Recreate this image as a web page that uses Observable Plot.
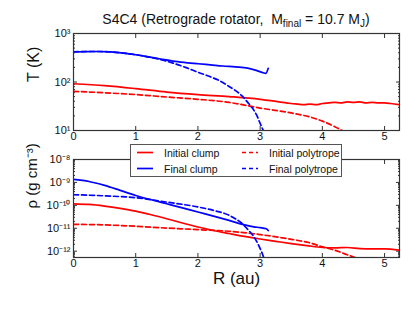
<!DOCTYPE html>
<html><head><meta charset="utf-8">
<script src="https://cdn.jsdelivr.net/npm/d3@7"></script>
<script src="https://cdn.jsdelivr.net/npm/@observablehq/plot@0.6"></script>
<style>
body{margin:0;background:#fff;font-family:"Liberation Sans",Arial,sans-serif}
#wrap{position:relative;width:415px;height:312px;overflow:hidden}
.abs{position:absolute}
#title{left:0;width:472px;top:11px;text-align:center;font-size:14px;color:#111;white-space:pre}
#title sub{font-size:10px;vertical-align:-3px;line-height:0}
#legend{left:130px;top:144px;width:210px;height:31px;border:1px solid #555;background:#fff;font-size:10.5px;color:#111}
#legend .it{position:absolute;height:14px;line-height:14px}
#legend svg{position:absolute;left:0;top:0}
</style></head><body>
<div id="wrap">
  <div id="top" class="abs" style="left:0;top:0"></div>
  <div id="bot" class="abs" style="left:0;top:140px"></div>
  <div id="title" class="abs">S4C4 (Retrograde rotator,  M<sub>final</sub> = 10.7 M<sub>J</sub>)</div>
  <div id="legend" class="abs"></div>
</div>
<script>
// ---------- data ----------
const seriesNames = ["Initial clump", "Final clump", "Initial polytrope", "Final polytrope"];
const seriesColors = ["#ff0000", "#0000ff", "#ff0000", "#0000ff"];
const seriesDashed = [false, false, true, true];

// Temperature panel
const T_initClump_R = [0, 0.5, 1.0, 1.5, 2.0, 2.5, 3.0, 3.3, 3.5, 3.6, 3.7, 3.8, 3.9, 4.0, 4.1, 4.2, 4.3, 4.4, 4.5, 4.6, 4.7, 4.8, 4.9, 5.0, 5.1, 5.24];
const T_initClump_V = [92, 84, 73, 62, 55, 50, 44, 39, 36, 35, 34, 35, 34, 36, 37, 38, 37, 39, 38, 39, 37, 38, 37, 37, 36, 34];
const T_finalClump_R = [0, 0.2, 0.4, 0.6, 0.8, 1.0, 1.2, 1.4, 1.6, 1.8, 2.0, 2.2, 2.4, 2.6, 2.8, 2.95, 3.05, 3.09, 3.13];
const T_finalClump_V = [415, 422, 425, 418, 395, 365, 330, 298, 270, 252, 238, 226, 214, 205, 194, 172, 155, 150, 192];
const T_initPoly_R = [0, 0.5, 1.0, 1.5, 2.0, 2.5, 3.0, 3.5, 3.8, 4.0, 4.2, 4.35];
const T_initPoly_V = [64, 60, 55, 49, 44, 38, 29, 23, 19, 15.6, 12, 9.5];
const T_finalPoly_R = [0, 0.2, 0.4, 0.6, 0.8, 1.0, 1.2, 1.4, 1.6, 1.8, 2.0, 2.2, 2.4, 2.5, 2.6, 2.7, 2.8, 2.9, 2.95, 3.0, 3.05, 3.08];
const T_finalPoly_V = [420, 425, 425, 415, 395, 365, 330, 290, 245, 200, 159, 128, 98, 81, 67, 53, 38, 26, 20, 14, 10, 8];

// Density panel
const rho_initClump_R = [0, 0.25, 0.5, 0.75, 1.0, 1.25, 1.5, 1.75, 2.0, 2.25, 2.5, 2.75, 3.0, 3.25, 3.5, 3.75, 4.0, 4.2, 4.4, 4.6, 4.8, 5.0, 5.24];
const rho_initClump_V = [1.17e-10, 1.1e-10, 9.3e-11, 7.4e-11, 5.6e-11, 3.9e-11, 2.6e-11, 1.7e-11, 1.14e-11, 8e-12, 5.9e-12, 4.4e-12, 3.4e-12, 2.7e-12, 2.15e-12, 1.75e-12, 1.45e-12, 1.4e-12, 1.45e-12, 1.3e-12, 1.25e-12, 1.25e-12, 1.1e-12];
const rho_finalClump_R = [0, 0.25, 0.5, 0.75, 1.0, 1.25, 1.5, 1.75, 2.0, 2.25, 2.5, 2.75, 2.9, 3.0, 3.1, 3.13];
const rho_finalClump_V = [1.35e-9, 1.1e-9, 7.4e-10, 4.5e-10, 2.7e-10, 1.75e-10, 1.17e-10, 7.8e-11, 5.1e-11, 3.4e-11, 2.2e-11, 1.4e-11, 1.15e-11, 1.07e-11, 9.5e-12, 8e-12];
const rho_initPoly_R = [0, 0.5, 1.0, 1.5, 2.0, 2.5, 3.0, 3.5, 3.8, 4.0, 4.2, 4.4, 4.6];
const rho_initPoly_V = [1.48e-11, 1.4e-11, 1.22e-11, 1.02e-11, 8.7e-12, 7.4e-12, 5.3e-12, 3.3e-12, 2.3e-12, 1.55e-12, 1.1e-12, 7e-13, 4.5e-13];
const rho_finalPoly_R = [0, 0.5, 1.0, 1.5, 2.0, 2.25, 2.5, 2.6, 2.7, 2.8, 2.9, 2.95, 3.0, 3.05, 3.07];
const rho_finalPoly_V = [2.9e-10, 2.6e-10, 2.15e-10, 1.38e-10, 8.5e-11, 6e-11, 3.7e-11, 2.6e-11, 1.7e-11, 9e-12, 4.2e-12, 2.5e-12, 1.3e-12, 6e-13, 4e-13];

const xTicks = [0, 1, 2, 3, 4, 5];
const T_ticks = [10, 100, 1000];
const rho_ticks = [1e-12, 1e-11, 1e-10, 1e-9, 1e-8];

// ---------- helpers ----------
const supMap = {"-": "⁻", "0": "⁰", "1": "¹", "2": "²", "3": "³", "4": "⁴", "5": "⁵", "6": "⁶", "7": "⁷", "8": "⁸", "9": "⁹"};
const sup = v => "10" + String(Math.round(Math.log10(v))).split("").map(c => supMap[c]).join("");
const rows = (R, V, s) => R.map((r, i) => ({r, v: V[i], s}));
function minors(lo, hi) {
  const out = [];
  for (let e = Math.floor(Math.log10(lo)); e < Math.ceil(Math.log10(hi)); e++)
    for (let k = 2; k <= 9; k++) { const v = k * Math.pow(10, e); if (v >= lo && v <= hi) out.push(v); }
  return out;
}
const TData = [
  rows(T_initClump_R, T_initClump_V, 0), rows(T_finalClump_R, T_finalClump_V, 1),
  rows(T_initPoly_R, T_initPoly_V, 2), rows(T_finalPoly_R, T_finalPoly_V, 3)];
const rhoData = [
  rows(rho_initClump_R, rho_initClump_V, 0), rows(rho_finalClump_R, rho_finalClump_V, 1),
  rows(rho_initPoly_R, rho_initPoly_V, 2), rows(rho_finalPoly_R, rho_finalPoly_V, 3)];

const ink = "#333";
const common = (yTicks, yDomain, extra) => {
  const mn = minors(yDomain[0], yDomain[1]);
  return [
    ...["left", "right"].map(a => Plot.axisY(mn, {anchor: a, tickSize: -2, tickFormat: () => "", label: null, stroke: ink})),
    ...["left", "right"].map(a => Plot.axisY(yTicks, {anchor: a, tickSize: -4, tickFormat: () => "", label: null, stroke: ink})),
    Plot.axisY(yTicks, {anchor: "left", tickSize: 0, tickPadding: 3, tickFormat: sup, label: null, fontSize: 11, fill: "#111"}),
    ...["top", "bottom"].map(a => Plot.axisX(xTicks, {anchor: a, tickSize: -4, tickFormat: () => "", label: null, stroke: ink})),
    Plot.axisX(xTicks, {anchor: "bottom", tickSize: 0, tickPadding: 2, tickFormat: d => String(d), label: null, fontSize: 11, fill: "#111"}),
    ...[0, 1, 2, 3].map(i => Plot.line(extra[i], {
      x: "r", y: "v", stroke: seriesColors[i], strokeWidth: 1.7,
      strokeDasharray: seriesDashed[i] ? "5,3" : null, clip: true, curve: "monotone-x"
    })),
    Plot.frame({stroke: ink, strokeWidth: 1.2})
  ];
};

const style = {fontFamily: "'Liberation Sans', Arial, sans-serif", fontSize: "11px", background: "transparent", overflow: "visible"};

const TDomain = [10, 1000];
const topPlot = Plot.plot({
  width: 415, height: 145, marginTop: 33, marginBottom: 15, marginLeft: 73, marginRight: 16,
  style,
  x: {domain: [0, 5.24]},
  y: {type: "log", domain: TDomain},
  marks: [
    ...common(T_ticks, TDomain, TData),
    Plot.text(["T (K)"], {text: d => d, frameAnchor: "left", dx: -40, rotate: -90, fontSize: 16, fill: "#111"})
  ]
});
document.getElementById("top").appendChild(topPlot);

const rhoDomain = [5.3e-13, 1e-8];
const botPlot = Plot.plot({
  width: 415, height: 172, marginTop: 19, marginBottom: 55, marginLeft: 73, marginRight: 16,
  style,
  x: {domain: [0, 5.24]},
  y: {type: "log", domain: rhoDomain},
  marks: [
    ...common(rho_ticks, rhoDomain, rhoData),
    Plot.text(["ρ (g cm⁻³)"], {text: d => d, frameAnchor: "left", dx: -41, rotate: -90, fontSize: 15, fill: "#111"}),
    Plot.text(["R (au)"], {text: d => d, frameAnchor: "bottom", dy: 26, fontSize: 17, fill: "#111"})
  ]
});
document.getElementById("bot").appendChild(botPlot);

// ---------- legend ----------
const lg = document.getElementById("legend");
const pos = [[0, 0], [0, 1], [1, 0], [1, 1]];
const svgNS = "http://www.w3.org/2000/svg";
const sw = document.createElementNS(svgNS, "svg");
sw.setAttribute("width", 210); sw.setAttribute("height", 31);
lg.appendChild(sw);
seriesNames.forEach((name, i) => {
  const [c, r] = pos[i];
  const x0 = c === 0 ? 6 : 111, y0 = r === 0 ? 7.5 : 23.5;
  const ln = document.createElementNS(svgNS, "line");
  ln.setAttribute("x1", x0); ln.setAttribute("x2", x0 + 16);
  ln.setAttribute("y1", y0); ln.setAttribute("y2", y0);
  ln.setAttribute("stroke", seriesColors[i]); ln.setAttribute("stroke-width", 1.7);
  if (seriesDashed[i]) ln.setAttribute("stroke-dasharray", "4,3");
  sw.appendChild(ln);
  const t = document.createElement("div");
  t.className = "it"; t.textContent = name;
  t.style.left = (c === 0 ? 33 : 138) + "px";
  t.style.top = (y0 - 7) + "px";
  lg.appendChild(t);
});
</script>
</body></html>
